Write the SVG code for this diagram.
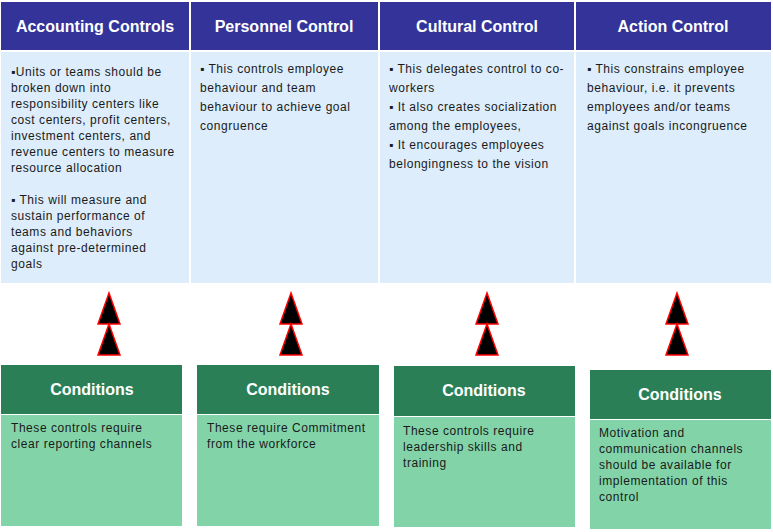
<svg xmlns="http://www.w3.org/2000/svg" xmlns:xlink="http://www.w3.org/1999/xlink" width="773" height="532" viewBox="0 0 773 532">
<style>
.hd{fill:#333399}
.bd{fill:#DDEDFB}
.gh{fill:#2A7F57}
.gb{fill:#82D4A8}
.ht{font-family:"Liberation Sans",Arial,sans-serif;font-size:16px;font-weight:bold;fill:#fff;text-anchor:middle}
.tx{font-family:"Liberation Sans",Arial,sans-serif;font-size:12px;fill:#1a1a1a;letter-spacing:0.55px}
.tri{fill:#000;stroke:#f00;stroke-width:1.5}
</style>
<defs>
<polygon id="tri" class="tri" points="0,0 11,31 -11,31"/>
</defs>
<rect width="773" height="532" fill="#fff"/>
<g id="accounting">
<rect class="hd" x="1" y="2" width="188" height="48"/>
<rect class="bd" x="1" y="52" width="188" height="231"/>
<text class="ht" x="95" y="32">Accounting Controls</text>
<text class="tx" x="11" y="76">▪Units or teams should be</text>
<text class="tx" x="11" y="92">broken down into</text>
<text class="tx" x="11" y="108">responsibility centers like</text>
<text class="tx" x="11" y="124">cost centers, profit centers,</text>
<text class="tx" x="11" y="140">investment centers, and</text>
<text class="tx" x="11" y="156">revenue centers to measure</text>
<text class="tx" x="11" y="172">resource allocation</text>
<text class="tx" x="11" y="204">▪ This will measure and</text>
<text class="tx" x="11" y="220">sustain performance of</text>
<text class="tx" x="11" y="236">teams and behaviors</text>
<text class="tx" x="11" y="252">against pre-determined</text>
<text class="tx" x="11" y="268">goals</text>
</g>
<g id="personnel">
<rect class="hd" x="191" y="2" width="187" height="48"/>
<rect class="bd" x="191" y="52" width="187" height="231"/>
<text class="ht" x="284" y="32">Personnel Control</text>
<text class="tx" x="200" y="73">▪ This controls employee</text>
<text class="tx" x="200" y="92">behaviour and team</text>
<text class="tx" x="200" y="111">behaviour to achieve goal</text>
<text class="tx" x="200" y="130">congruence</text>
</g>
<g id="cultural">
<rect class="hd" x="380" y="2" width="194" height="48"/>
<rect class="bd" x="380" y="52" width="194" height="231"/>
<text class="ht" x="477" y="32">Cultural Control</text>
<text class="tx" x="389" y="73">▪ This delegates control to co-</text>
<text class="tx" x="389" y="92">workers</text>
<text class="tx" x="389" y="111">▪ It also creates socialization</text>
<text class="tx" x="389" y="130">among the employees,</text>
<text class="tx" x="389" y="149">▪ It encourages employees</text>
<text class="tx" x="389" y="168">belongingness to the vision</text>
</g>
<g id="action">
<rect class="hd" x="576" y="2" width="195" height="48"/>
<rect class="bd" x="576" y="52" width="195" height="231"/>
<text class="ht" x="673" y="32">Action Control</text>
<text class="tx" x="587" y="73">▪ This constrains employee</text>
<text class="tx" x="587" y="92">behaviour, i.e. it prevents</text>
<text class="tx" x="587" y="111">employees and/or teams</text>
<text class="tx" x="587" y="130">against goals incongruence</text>
</g>
<g id="connectors">
<use xlink:href="#tri" x="109" y="293"/>
<use xlink:href="#tri" x="109" y="324"/>
<use xlink:href="#tri" x="291" y="293"/>
<use xlink:href="#tri" x="291" y="324"/>
<use xlink:href="#tri" x="487" y="293"/>
<use xlink:href="#tri" x="487" y="324"/>
<use xlink:href="#tri" x="677" y="293"/>
<use xlink:href="#tri" x="677" y="324"/>
</g>
<g id="cond1">
<rect class="gh" x="1" y="365" width="181" height="49"/>
<rect class="gb" x="1" y="415" width="181" height="111"/>
<text class="ht" x="92" y="395">Conditions</text>
<text class="tx" x="11" y="432">These controls require</text>
<text class="tx" x="11" y="448">clear reporting channels</text>
</g>
<g id="cond2">
<rect class="gh" x="197" y="365" width="182" height="49"/>
<rect class="gb" x="197" y="415" width="182" height="111"/>
<text class="ht" x="288" y="395">Conditions</text>
<text class="tx" x="207" y="432">These require Commitment</text>
<text class="tx" x="207" y="448">from the workforce</text>
</g>
<g id="cond3">
<rect class="gh" x="394" y="366" width="181" height="50"/>
<rect class="gb" x="394" y="417" width="181" height="110"/>
<text class="ht" x="484" y="396">Conditions</text>
<text class="tx" x="403" y="435">These controls require</text>
<text class="tx" x="403" y="451">leadership skills and</text>
<text class="tx" x="403" y="467">training</text>
</g>
<g id="cond4">
<rect class="gh" x="590" y="370" width="181" height="49"/>
<rect class="gb" x="590" y="420" width="181" height="109"/>
<text class="ht" x="680" y="400">Conditions</text>
<text class="tx" x="599" y="437">Motivation and</text>
<text class="tx" x="599" y="453">communication channels</text>
<text class="tx" x="599" y="469">should be available for</text>
<text class="tx" x="599" y="485">implementation of this</text>
<text class="tx" x="599" y="501">control</text>
</g>
</svg>
